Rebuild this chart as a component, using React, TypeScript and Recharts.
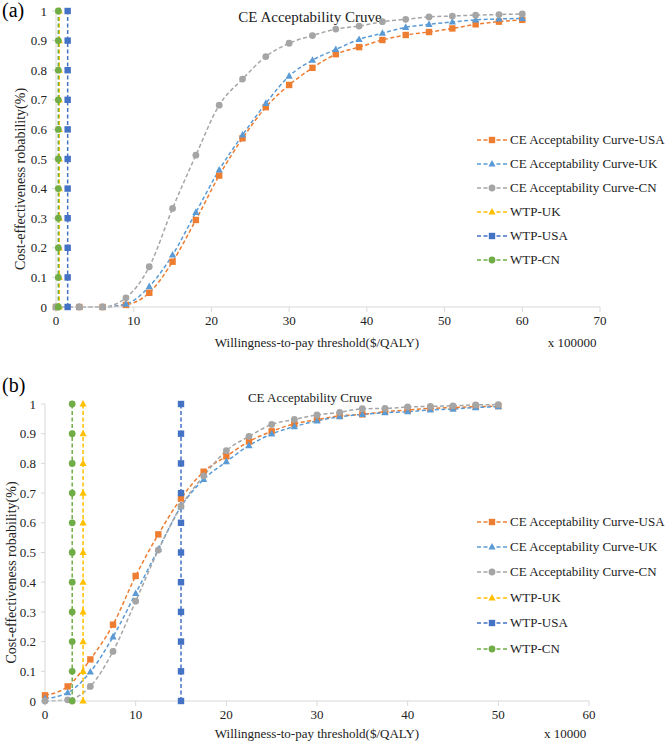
import { LineChart, Line, XAxis, YAxis, Legend, Customized } from "recharts";

// ---- panel (a): WTP in units of 100000 ----
const A_X = [0, 3, 6, 9, 12, 15, 18, 21, 24, 27, 30, 33, 36, 39, 42, 45, 48, 51, 54, 57, 60];
const A_USA = [0, 0, 0, 0.007, 0.048, 0.153, 0.294, 0.444, 0.57, 0.675, 0.75, 0.808, 0.854, 0.878, 0.902, 0.919, 0.929, 0.941, 0.955, 0.964, 0.97];
const A_UK = [0, 0, 0, 0.01, 0.069, 0.176, 0.32, 0.463, 0.581, 0.688, 0.78, 0.834, 0.87, 0.904, 0.925, 0.945, 0.955, 0.963, 0.97, 0.973, 0.975];
const A_CN = [0, 0, 0, 0.031, 0.136, 0.333, 0.513, 0.682, 0.77, 0.846, 0.891, 0.917, 0.939, 0.949, 0.964, 0.972, 0.98, 0.983, 0.986, 0.988, 0.99];
const A_WTP_UK = 0.42;
const A_WTP_USA = 1.5;
const A_WTP_CN = 0.3;
const A_X_TICKS = [0, 10, 20, 30, 40, 50, 60, 70];

// ---- panel (b): WTP in units of 10000 ----
const B_X = [0, 2.5, 5, 7.5, 10, 12.5, 15, 17.5, 20, 22.5, 25, 27.5, 30, 32.5, 35, 37.5, 40, 42.5, 45, 47.5, 50];
const B_USA = [0.019, 0.049, 0.14, 0.257, 0.421, 0.561, 0.682, 0.772, 0.824, 0.874, 0.908, 0.933, 0.947, 0.96, 0.965, 0.974, 0.98, 0.985, 0.988, 0.991, 0.993];
const B_UK = [0.008, 0.028, 0.098, 0.216, 0.362, 0.511, 0.654, 0.746, 0.806, 0.86, 0.899, 0.924, 0.943, 0.957, 0.965, 0.971, 0.974, 0.98, 0.983, 0.988, 0.991];
const B_CN = [0, 0.004, 0.049, 0.167, 0.336, 0.508, 0.656, 0.758, 0.843, 0.891, 0.931, 0.948, 0.963, 0.972, 0.984, 0.985, 0.99, 0.992, 0.994, 0.997, 0.998];
const B_WTP_UK = 4.2;
const B_WTP_USA = 15;
const B_WTP_CN = 3;
const B_X_TICKS = [0, 10, 20, 30, 40, 50, 60];

const PROB_TICKS = [0, 0.1, 0.2, 0.3, 0.4, 0.5, 0.6, 0.7, 0.8, 0.9, 1];

const C_USA = "#ED7D31";
const C_UK = "#5B9BD5";
const C_CN = "#A5A5A5";
const C_WTP_UK = "#FFC000";
const C_WTP_USA = "#4472C4";
const C_WTP_CN = "#70AD47";

const FONT = "'Liberation Serif', 'Times New Roman', serif";

const toPts = (xs: number[], ys: number[]) => ys.map((y, i) => ({ x: xs[i], y }));
const vertical = (x: number) => PROB_TICKS.map((y) => ({ x, y }));

type Shape = "square" | "triangle" | "circle";

function Marker({ shape, cx, cy, color }: { shape: Shape; cx: number; cy: number; color: string }) {
  if (shape === "square") return <rect x={cx - 3.2} y={cy - 3.2} width={6.4} height={6.4} fill={color} />;
  if (shape === "triangle")
    return <polygon points={`${cx},${cy - 4} ${cx - 3.6},${cy + 2.6} ${cx + 3.6},${cy + 2.6}`} fill={color} />;
  return <circle cx={cx} cy={cy} r={3.4} fill={color} />;
}

const dotFn = (shape: Shape, color: string) => (p: any) => {
  if (p.cx == null || p.cy == null) return <g key={`${shape}-${p.index}`} />;
  return (
    <g key={`${shape}-${p.index}`}>
      <Marker shape={shape} cx={p.cx} cy={p.cy} color={color} />
    </g>
  );
};

const SERIES = [
  { name: "CE Acceptability Curve-USA", color: C_USA, shape: "square" as Shape },
  { name: "CE Acceptability Curve-UK", color: C_UK, shape: "triangle" as Shape },
  { name: "CE Acceptability Curve-CN", color: C_CN, shape: "circle" as Shape },
  { name: "WTP-UK", color: C_WTP_UK, shape: "triangle" as Shape },
  { name: "WTP-USA", color: C_WTP_USA, shape: "square" as Shape },
  { name: "WTP-CN", color: C_WTP_CN, shape: "circle" as Shape },
];

const makeLegend = (rowGap: number) => () => (
  <div style={{ fontFamily: FONT, fontSize: 13, color: "#222" }}>
    {SERIES.map((s) => (
      <div key={s.name} style={{ display: "flex", alignItems: "center", height: rowGap }}>
        <svg width={32} height={10} style={{ marginRight: 2 }}>
          <line x1={1} y1={5} x2={31} y2={5} stroke={s.color} strokeWidth={1.5} strokeDasharray="4 2.5" />
          <Marker shape={s.shape} cx={16} cy={5} color={s.color} />
        </svg>
        <span style={{ whiteSpace: "nowrap" }}>{s.name}</span>
      </div>
    ))}
  </div>
);

const probFmt = (v: number) => (v === 0 ? "0" : v === 1 ? "1" : v.toFixed(1));

interface PanelProps {
  xs: number[];
  usa: number[];
  uk: number[];
  cn: number[];
  wtpUk: number;
  wtpUsa: number;
  wtpCn: number;
  xTicks: number[];
  unit: string;
  height: number;
  margin: { top: number; right: number; bottom: number; left: number };
  yWidth: number;
  titleY: number;
  titleSize: number;
  yLabelX: number;
  unitX: number;
  xLabelDy: number;
  legendTop: number;
  legendRow: number;
}

function Panel(p: PanelProps) {
  const dash = "4 2.5";
  const tickStyle = { fill: "#222", fontSize: 13, fontFamily: FONT };
  return (
    <LineChart width={666} height={p.height} margin={p.margin} style={{ fontFamily: FONT }}>
      <XAxis
        type="number"
        dataKey="x"
        domain={[p.xTicks[0], p.xTicks[p.xTicks.length - 1]]}
        ticks={p.xTicks}
        height={20}
        tickSize={5}
        tickMargin={4}
        stroke="#D9D9D9"
        tick={tickStyle}
      />
      <YAxis
        type="number"
        domain={[0, 1]}
        ticks={PROB_TICKS}
        width={p.yWidth}
        tickSize={4}
        tickMargin={5}
        stroke="#D9D9D9"
        tickFormatter={probFmt}
        tick={tickStyle}
      />
      <Legend
        layout="horizontal"
        verticalAlign="middle"
        align="center"
        content={makeLegend(p.legendRow)}
        wrapperStyle={{ left: 476, top: p.legendTop, width: 190, height: "auto" }}
      />
      <Line data={toPts(p.xs, p.usa)} dataKey="y" name={SERIES[0].name} type="monotone" stroke={C_USA} strokeWidth={1.5} strokeDasharray={dash} dot={dotFn("square", C_USA)} isAnimationActive={false} />
      <Line data={toPts(p.xs, p.uk)} dataKey="y" name={SERIES[1].name} type="monotone" stroke={C_UK} strokeWidth={1.5} strokeDasharray={dash} dot={dotFn("triangle", C_UK)} isAnimationActive={false} />
      <Line data={toPts(p.xs, p.cn)} dataKey="y" name={SERIES[2].name} type="monotone" stroke={C_CN} strokeWidth={1.5} strokeDasharray={dash} dot={dotFn("circle", C_CN)} isAnimationActive={false} />
      <Line data={vertical(p.wtpUk)} dataKey="y" name={SERIES[3].name} type="linear" stroke={C_WTP_UK} strokeWidth={1.5} strokeDasharray={dash} dot={dotFn("triangle", C_WTP_UK)} isAnimationActive={false} />
      <Line data={vertical(p.wtpUsa)} dataKey="y" name={SERIES[4].name} type="linear" stroke={C_WTP_USA} strokeWidth={1.5} strokeDasharray={dash} dot={dotFn("square", C_WTP_USA)} isAnimationActive={false} />
      <Line data={vertical(p.wtpCn)} dataKey="y" name={SERIES[5].name} type="linear" stroke={C_WTP_CN} strokeWidth={1.5} strokeDasharray={dash} dot={dotFn("circle", C_WTP_CN)} isAnimationActive={false} />
      <Customized
        component={() => {
          const plotBottom = p.height - p.margin.bottom - 20;
          const plotTop = p.margin.top;
          const yMid = (plotTop + plotBottom) / 2 + 20;
          return (
            <g fontFamily={FONT} fill="#222">
              <text x={310} y={p.titleY} textAnchor="middle" fontSize={p.titleSize}>
                CE Acceptability Cruve
              </text>
              <text x={317} y={plotBottom + p.xLabelDy} textAnchor="middle" fontSize={13}>
                Willingness-to-pay threshold($/QALY)
              </text>
              <text x={p.unitX} y={plotBottom + p.xLabelDy} textAnchor="middle" fontSize={13}>
                {p.unit}
              </text>
              <text
                x={p.yLabelX}
                y={yMid}
                textAnchor="middle"
                fontSize={14}
                transform={`rotate(-90 ${p.yLabelX} ${yMid})`}
                dominantBaseline="central"
              >
                Cost-effectiveness robability(%)
              </text>
            </g>
          );
        }}
      />
    </LineChart>
  );
}

export default function App() {
  return (
    <div style={{ position: "absolute", left: 0, top: 0, width: 666, height: 743, background: "#fff", fontFamily: FONT }}>
      <div style={{ position: "absolute", left: 0, top: 0 }}>
        <Panel
          xs={A_X}
          usa={A_USA}
          uk={A_UK}
          cn={A_CN}
          wtpUk={A_WTP_UK}
          wtpUsa={A_WTP_USA}
          wtpCn={A_WTP_CN}
          xTicks={A_X_TICKS}
          unit="x 100000"
          height={360}
          margin={{ top: 11, right: 66, bottom: 33, left: 0 }}
          yWidth={56}
          titleY={22}
          titleSize={15}
          yLabelX={20}
          unitX={572}
          xLabelDy={40}
          legendTop={128}
          legendRow={24}
        />
      </div>
      <div style={{ position: "absolute", left: 0, top: 360 }}>
        <Panel
          xs={B_X}
          usa={B_USA}
          uk={B_UK}
          cn={B_CN}
          wtpUk={B_WTP_UK}
          wtpUsa={B_WTP_USA}
          wtpCn={B_WTP_CN}
          xTicks={B_X_TICKS}
          unit="x 10000"
          height={383}
          margin={{ top: 44, right: 77, bottom: 22, left: 0 }}
          yWidth={45}
          titleY={42}
          titleSize={13}
          yLabelX={11}
          unitX={565}
          xLabelDy={37}
          legendTop={149}
          legendRow={25.4}
        />
      </div>
      <div style={{ position: "absolute", left: 2, top: -1, fontSize: 20, fontFamily: FONT }}>(a)</div>
      <div style={{ position: "absolute", left: 2, top: 374, fontSize: 20, fontFamily: FONT }}>(b)</div>
    </div>
  );
}
